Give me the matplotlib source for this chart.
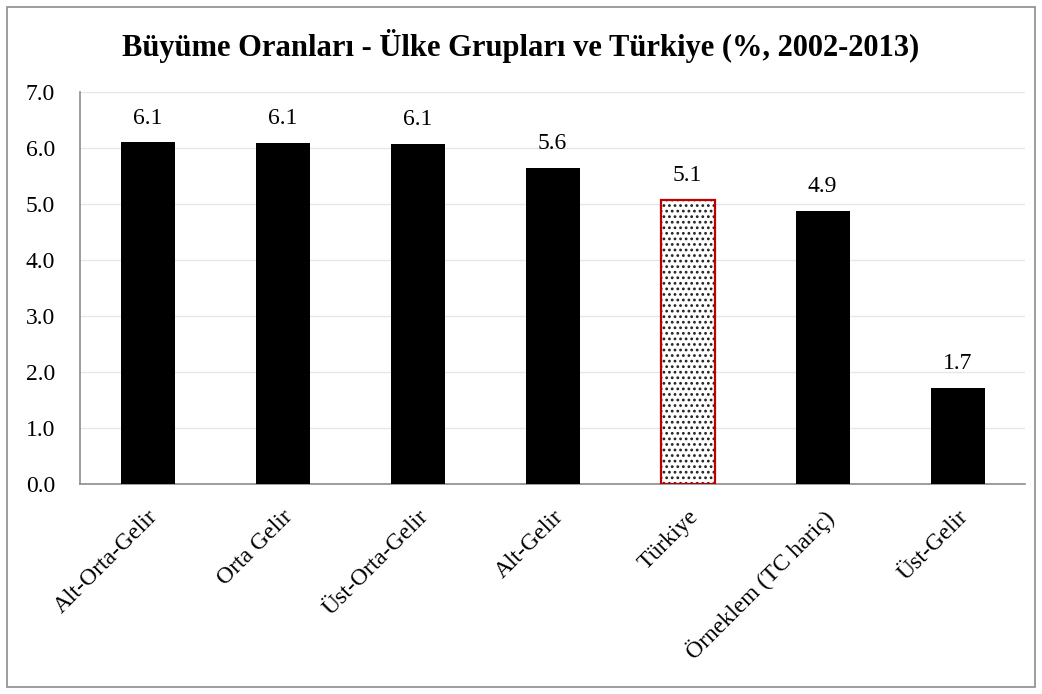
import matplotlib.pyplot as plt
from matplotlib.patches import Rectangle

categories = ['Alt-Orta-Gelir', 'Orta Gelir', 'Üst-Orta-Gelir', 'Alt-Gelir',
              'Türkiye', 'Örneklem (TC hariç)', 'Üst-Gelir']
values = [6.10, 6.09, 6.08, 5.64, 5.07, 4.87, 1.71]
labels = ['6.1', '6.1', '6.1', '5.6', '5.1', '4.9', '1.7']
yticks = [0, 1, 2, 3, 4, 5, 6, 7]

plt.rcParams['font.family'] = ['Liberation Serif', 'DejaVu Serif']
plt.rcParams['hatch.linewidth'] = 1.2

fig = plt.figure(figsize=(10.42, 6.94), dpi=100)
ax = fig.add_axes([80 / 1042, 1 - 484 / 694, 945 / 1042, 392 / 694])

# outer chart border
fig.patches.append(Rectangle((7 / 1042, 7 / 694), 1028 / 1042, 680 / 694,
                             transform=fig.transFigure, fill=False,
                             edgecolor='#8c8c8c', linewidth=1.2))

x = list(range(len(categories)))
colors = ['black'] * len(values)
colors[4] = 'white'
bars = ax.bar(x, values, width=0.4, color=colors, zorder=3)
# Türkiye: dotted fill with a red outline on top
bars[4].set_hatch('...')
bars[4].set_edgecolor('#222222')
bars[4].set_linewidth(0)
ax.bar(x[4], values[4], width=0.4, fill=False, edgecolor='#c00000',
       linewidth=1.6, zorder=4)

for i, v in enumerate(values):
    ax.annotate(labels[i], (i, v), xytext=(0, 10), textcoords='offset points',
                ha='center', va='bottom', fontsize=17)

ax.set_xlim(-0.5, len(categories) - 0.5)
ax.set_ylim(0, 7)
ax.set_yticks(yticks)
ax.set_yticklabels(['%.1f' % t for t in yticks], fontsize=17)
ax.set_xticks(x)
ax.set_xticklabels(categories, rotation=45, ha='right', rotation_mode='anchor', fontsize=17)
ax.tick_params(axis='y', length=0, pad=18)
ax.tick_params(axis='x', length=0, pad=16)
ax.yaxis.grid(True, color='#e6e6e6', linewidth=1, zorder=0)
for s in ['top', 'right']:
    ax.spines[s].set_visible(False)
for s in ['left', 'bottom']:
    ax.spines[s].set_color('#8c8c8c')
    ax.spines[s].set_linewidth(1.2)

fig.text(0.5, 1 - 46 / 694, 'Büyüme Oranları - Ülke Grupları ve Türkiye (%, 2002-2013)',
         ha='center', va='center', fontsize=22, fontweight='bold')

fig.savefig('out.png', dpi=100)
